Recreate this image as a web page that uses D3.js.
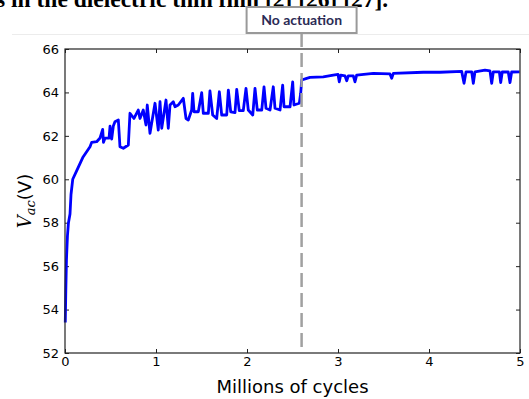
<!DOCTYPE html>
<html>
<head>
<meta charset="utf-8">
<script src="https://d3js.org/d3.v7.min.js"></script>
<style>
  body { margin: 0; background: #fff; }
  svg { display: block; }
</style>
</head>
<body>
<svg width="529" height="399"></svg>
<script>
// millions of cycles vs V_ac
var cycles = [0.003, 0.009, 0.016, 0.027, 0.038, 0.055, 0.066, 0.085, 0.129, 0.195,
  0.275, 0.293, 0.348, 0.385, 0.414, 0.423, 0.44, 0.484, 0.495, 0.513,
  0.531, 0.549, 0.586, 0.604, 0.641, 0.696, 0.714, 0.758, 0.805, 0.824,
  0.86, 0.89, 0.904, 0.934, 0.989, 1.025, 1.044, 1.063, 1.11, 1.135,
  1.154, 1.19, 1.209, 1.245, 1.3, 1.33, 1.355, 1.392, 1.403, 1.418,
  1.465, 1.502, 1.52, 1.575, 1.593, 1.623, 1.667, 1.696, 1.722, 1.777,
  1.795, 1.821, 1.868, 1.887, 1.915, 1.959, 1.989, 2.014, 2.063, 2.088,
  2.113, 2.162, 2.187, 2.209, 2.253, 2.289, 2.308, 2.363, 2.392, 2.407,
  2.473, 2.502, 2.516, 2.575, 2.59, 2.601, 2.656, 2.692, 2.838, 2.948,
  3.0, 3.014, 3.03, 3.077, 3.096, 3.113, 3.168, 3.187, 3.205, 3.388,
  3.571, 3.59, 3.608, 3.937, 4.121, 4.359, 4.385, 4.407, 4.469, 4.487,
  4.505, 4.615, 4.67, 4.689, 4.707, 4.773, 4.788, 4.805, 4.871, 4.89,
  4.908, 4.995];
var vac = [53.4, 54.9, 56.3, 57.4, 58.0, 58.4, 59.3, 60.0, 60.4, 61.0,
  61.5, 61.7, 61.73, 61.9, 62.3, 61.7, 61.9, 61.9, 62.45, 61.85,
  62.45, 62.65, 62.73, 61.5, 61.43, 61.58, 63.04, 62.8, 63.19, 62.8,
  63.19, 62.5, 63.42, 62.12, 63.5, 62.27, 63.57, 62.35, 63.65, 62.35,
  63.42, 63.57, 63.34, 63.42, 63.73, 62.8, 62.73, 63.19, 63.96, 63.11,
  63.11, 63.99, 63.04, 63.04, 64.07, 62.96, 62.8, 64.03, 62.96, 62.96,
  64.11, 63.11, 63.07, 64.14, 63.16, 63.16, 64.19, 63.19, 62.96, 64.19,
  63.19, 63.19, 64.26, 63.27, 63.19, 64.26, 63.27, 63.19, 64.34, 63.34,
  63.34, 64.49, 63.42, 63.5, 63.96, 64.57, 64.65, 64.69, 64.72, 64.8,
  64.83, 64.49, 64.8, 64.76, 64.54, 64.76, 64.76, 64.49, 64.8, 64.88,
  64.85, 64.65, 64.88, 64.93, 64.93, 64.97, 64.42, 64.95, 64.95, 64.42,
  64.95, 65.03, 64.99, 64.42, 64.95, 64.95, 64.45, 64.94, 64.94, 64.45,
  64.94, 64.95];
var xTicks = [0, 1, 2, 3, 4, 5];
var yTicks = [52, 54, 56, 58, 60, 62, 64, 66];
var markerAt = 2.6;
var markerLabel = "No actuation";

var svg = d3.select("svg");
var margin = {top: 49, right: 9, bottom: 46, left: 65},
    width = 529 - margin.left - margin.right,
    height = 399 - margin.top - margin.bottom;

// bit of the page text above the figure
svg.append("text")
    .attr("x", -4)
    .attr("y", 7)
    .attr("font-family", "Liberation Serif")
    .attr("font-weight", "bold")
    .attr("font-size", 23.5)
    .attr("fill", "#000")
    .text("s in the dielectric thin film [2] [26] [27].");

svg.append("line")
    .attr("x1", 12).attr("x2", 529)
    .attr("y1", 34.5).attr("y2", 34.5)
    .attr("stroke", "#ececec");

var x = d3.scaleLinear().domain([0, 5]).range([0, width]);
var y = d3.scaleLinear().domain([52, 66]).range([height, 0]);

var g = svg.append("g")
    .attr("transform", "translate(" + margin.left + "," + margin.top + ")");

function styleAxis(sel) {
  sel.select(".domain").remove();
  sel.selectAll("line").attr("stroke", "#222");
  sel.selectAll("text")
     .attr("font-family", "DejaVu Sans")
     .attr("font-size", 13)
     .attr("fill", "#000");
}

g.append("g")
    .attr("transform", "translate(0," + height + ")")
    .call(d3.axisBottom(x).tickValues(xTicks).tickSize(-4).tickPadding(4).tickFormat(d3.format("d")))
    .call(styleAxis);
g.append("g")
    .call(d3.axisTop(x).tickValues(xTicks).tickSize(-4).tickFormat(""))
    .call(styleAxis);
g.append("g")
    .call(d3.axisLeft(y).tickValues(yTicks).tickSize(-4).tickPadding(6).tickFormat(d3.format("d")))
    .call(styleAxis);
g.append("g")
    .attr("transform", "translate(" + width + ",0)")
    .call(d3.axisRight(y).tickValues(yTicks).tickSize(-4).tickFormat(""))
    .call(styleAxis);

var line = d3.line()
    .x(function(d, i) { return x(cycles[i]); })
    .y(function(d) { return y(d); });

g.append("path")
    .datum(vac)
    .attr("fill", "none")
    .attr("stroke", "#0000ff")
    .attr("stroke-width", 2.8)
    .attr("stroke-linejoin", "round")
    .attr("d", line);

// marker line up to the label box
g.append("line")
    .attr("x1", x(markerAt)).attr("x2", x(markerAt))
    .attr("y1", 33 - margin.top).attr("y2", height)
    .attr("stroke", "#a0a0a0")
    .attr("stroke-width", 2.5)
    .attr("stroke-dasharray", "14,6");

g.append("rect")
    .attr("width", width).attr("height", height)
    .attr("fill", "none")
    .attr("stroke", "#222")
    .attr("stroke-width", 1.2);

var box = svg.append("g")
    .attr("transform", "translate(" + (margin.left + x(markerAt)) + ",20)");
box.append("rect")
    .attr("x", -55).attr("y", -13)
    .attr("width", 110).attr("height", 26)
    .attr("fill", "#fff")
    .attr("stroke", "#999")
    .attr("stroke-width", 2);
box.append("text")
    .attr("text-anchor", "middle")
    .attr("dy", "0.35em")
    .attr("font-family", "Lato")
    .attr("font-weight", "bold")
    .attr("font-size", 14)
    .attr("fill", "#2b2b55")
    .text(markerLabel);

svg.append("text")
    .attr("x", margin.left + width / 2)
    .attr("y", 393)
    .attr("text-anchor", "middle")
    .attr("font-family", "DejaVu Sans")
    .attr("font-size", 18)
    .attr("fill", "#000")
    .text("Millions of cycles");

var yl = svg.append("text")
    .attr("transform", "translate(31," + (margin.top + height / 2) + ") rotate(-90)")
    .attr("text-anchor", "middle")
    .attr("font-size", 18)
    .attr("fill", "#000");
yl.append("tspan")
    .attr("font-family", "DejaVu Serif")
    .attr("font-style", "italic")
    .text("V");
yl.append("tspan")
    .attr("font-family", "DejaVu Serif")
    .attr("font-style", "italic")
    .attr("font-size", 13)
    .attr("dy", 4)
    .text("ac");
yl.append("tspan")
    .attr("font-family", "DejaVu Sans")
    .attr("dy", -4)
    .text("(V)");
</script>
</body>
</html>
